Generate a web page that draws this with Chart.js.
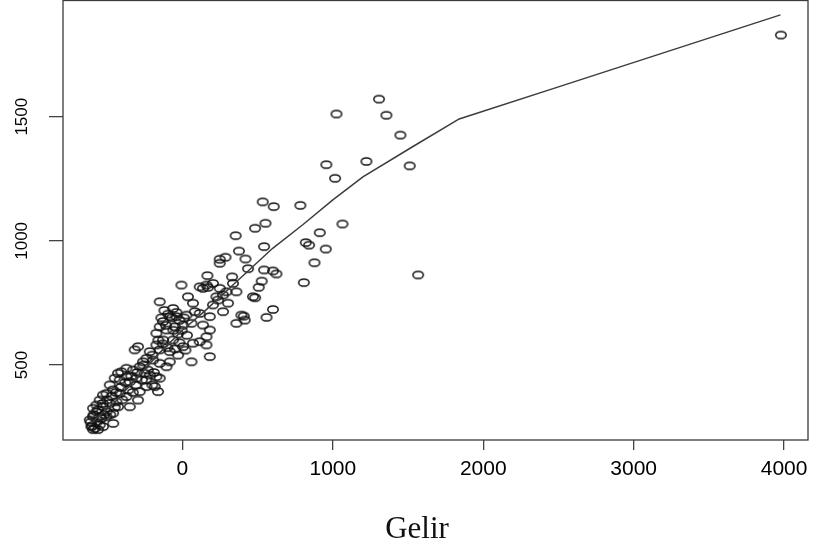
<!DOCTYPE html>
<html>
<head>
<meta charset="utf-8">
<script src="https://cdn.jsdelivr.net/npm/chart.js@4.4.1/dist/chart.umd.min.js"></script>
<style>
  html, body { margin: 0; padding: 0; background: #fff; }
  #wrap { width: 822px; height: 549px; }
</style>
</head>
<body>
<div id="wrap"><canvas id="plot" width="822" height="549"></canvas></div>
<script>
const gelirX = [
  1307, 1024, 1356, 1449, 957, 1223, 1511, 1015, 784, 1064, 913, 820, 842, 953, 878, 807, 1567, 3979,
  534, 607, 552, 483, 354, 543, 376, 419, 248, 286, 248, 436, 543, 602, 625, 527, 507, 483, 602, 408, 559, 330, 166, 137, 170,
  -7, 115, 160, 203, 248, 293, 226, 270, 336, 359, 469, 37, -151, -62, 70, 82, 203, 237, 303, 392,
  414, 359, 270, 182, 115, 27, -40, -84, -129, -151, -173, -106, -51, 4, 60, 137, 182, 160, 115, 160,
  182, 70, 60, 4, -62, -129, -173, -151, -84, -29, -84, -106, -151, -195, -239, -217, -295, -317, -262, -284,
  -328, -372, -406, -428, -450, -417, -372, -350, -306, -251, -217, -173, -151, -184, -162, -239, -284, -295, -350, -372,
  -417, -461, -483, -505, -528, -550, -572, -594, -572, -528, -505, -483, -439, -428, -461, -505, -550, -594, -616, -605,
  -583, -550, -528, -561, -594,
  -120, -95, -70, -40, -20, 10, -140, -110, -60, -30, -5, 30, -160, -130, -100, -50, -20, 20, -200, -260,
  -230, -190, -300, -340, -380, -410, -440, -470, -500, -530, -560, -590, -610, -570, -540, -520, -480, -450, -400, -360,
  -330, -310, -270, -240, -200, -460, -600
];
const tuketimY = [
  1571, 1511, 1506, 1426, 1307, 1320, 1302, 1252, 1143, 1068, 1033, 993, 983, 967, 912, 832, 863, 1829,
  1157, 1138, 1071, 1051, 1021, 977, 959, 927, 926, 934, 910, 888, 883, 879, 867, 838, 813, 771, 724, 697, 692, 855, 860, 809, 813,
  822, 815, 822, 829, 809, 795, 775, 782, 829, 795, 775, 775, 755, 728, 749, 715, 742, 762, 749, 701,
  681, 668, 715, 695, 708, 701, 695, 695, 675, 654, 628, 641, 654, 661, 668, 661, 641, 614, 594, 581,
  534, 588, 513, 574, 601, 601, 581, 561, 554, 540, 513, 493, 507, 520, 527, 554, 574, 561, 513, 493,
  480, 487, 473, 467, 447, 440, 453, 433, 447, 467, 460, 453, 447, 413, 393, 413, 393, 359, 332, 373,
  386, 400, 420, 386, 379, 359, 339, 326, 312, 332, 312, 346, 352, 332, 306, 292, 292, 292, 279, 252,
  245, 259, 252, 240, 240,
  720, 705, 690, 712, 680, 690, 690, 660, 640, 625, 640, 620, 600, 585, 570, 565, 590, 560, 540, 500,
  480, 470, 470, 455, 430, 410, 390, 375, 360, 345, 320, 300, 270, 270, 285, 300, 300, 330, 360, 400,
  390, 420, 440, 440, 420, 265, 255
];

// smoothed fit line
const fitX = [-611, -450, -300, -150, 0, 150, 350, 600, 800, 1000, 1200, 1530, 1840, 2500, 3976];
const fitY = [265, 350, 450, 550, 640, 718, 830, 970, 1065, 1165, 1258, 1379, 1491, 1620, 1910];

const xTicks = [0, 1000, 2000, 3000, 4000];
const yTicks = [500, 1000, 1500];
const xLabel = 'Gelir';

// R style open circle (slightly wide, like the stretched original)
const ring = document.createElement('canvas');
ring.width = 14;
ring.height = 11;
const rc = ring.getContext('2d');
rc.strokeStyle = '#111';
rc.lineWidth = 1.5;
rc.beginPath();
rc.ellipse(7, 5.5, 5.2, 3.6, 0, 0, Math.PI * 2);
rc.stroke();

const pts = gelirX.map((x, i) => ({x: x, y: tuketimY[i]}));
const fit = fitX.map((x, i) => ({x: x, y: fitY[i]}));

const frame = {
  id: 'frame',
  afterDraw(chart) {
    const {ctx, chartArea: a} = chart;
    ctx.save();
    ctx.strokeStyle = '#3a3a3a';
    ctx.lineWidth = 1.3;
    ctx.strokeRect(a.left, a.top + 0.5, a.right - a.left, a.bottom - a.top - 0.5);
    ctx.fillStyle = '#111';
    ctx.font = '31px "Liberation Serif", "DejaVu Serif", serif';
    ctx.textAlign = 'center';
    ctx.textBaseline = 'middle';
    ctx.fillText(xLabel, 417, 530);
    ctx.restore();
  }
};

new Chart(document.getElementById('plot'), {
  type: 'scatter',
  data: {
    datasets: [
      {
        type: 'line',
        data: fit,
        borderColor: '#3c3c3c',
        borderWidth: 1.5,
        pointRadius: 0,
        tension: 0,
        fill: false
      },
      {
        data: pts,
        pointStyle: ring,
        pointRadius: 5,
        showLine: false
      }
    ]
  },
  options: {
    responsive: false,
    animation: false,
    layout: { autoPadding: false, padding: { top: 0, right: 14, bottom: 0, left: 0 } },
    plugins: { legend: { display: false }, tooltip: { enabled: false } },
    scales: {
      x: {
        type: 'linear',
        min: -794,
        max: 4159,
        afterBuildTicks: s => { s.ticks = xTicks.map(v => ({value: v})); },
        afterFit: s => { s.height = 109; s.paddingLeft = 0; s.paddingRight = 0; },
        border: { display: false },
        grid: { drawOnChartArea: false, drawTicks: true, tickLength: 10, color: '#444', lineWidth: 1.3 },
        ticks: {
          color: '#000',
          padding: 7,
          maxRotation: 0,
          font: { family: '"Liberation Sans", Arial, sans-serif', size: 21 },
          callback: v => String(v)
        }
      },
      y: {
        type: 'linear',
        min: 198,
        max: 1970,
        afterBuildTicks: s => { s.ticks = yTicks.map(v => ({value: v})); },
        afterFit: s => { s.width = 63; s.paddingTop = 0; s.paddingBottom = 0; },
        border: { display: false },
        grid: { drawOnChartArea: false, drawTicks: true, tickLength: 14, color: '#444', lineWidth: 1.3 },
        ticks: {
          color: '#000',
          padding: 8,
          minRotation: 90,
          maxRotation: 90,
          crossAlign: 'center',
          font: { family: '"Liberation Sans", Arial, sans-serif', size: 17 },
          callback: v => String(v)
        }
      }
    }
  },
  plugins: [frame]
});
</script>
</body>
</html>
